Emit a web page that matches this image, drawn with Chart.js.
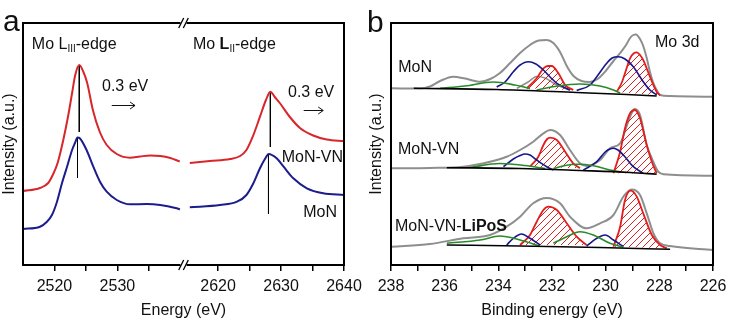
<!DOCTYPE html>
<html>
<head>
<meta charset="utf-8">
<script src="https://cdn.jsdelivr.net/npm/chart.js@4.4.1/dist/chart.umd.min.js"></script>
<style>
  html, body { margin: 0; padding: 0; background: #fff; }
  #wrap { position: relative; width: 745px; height: 322px; }
  canvas { position: absolute; top: 0; }
  #xanes { left: 0; }
  #xps { left: 365px; }
</style>
</head>
<body>
<div id="wrap">
  <canvas id="xanes" width="365" height="322"></canvas>
  <canvas id="xps" width="380" height="322"></canvas>
</div>
<script>
const FONT = '"Liberation Sans", Arial, sans-serif';
Chart.defaults.font.family = FONT;
Chart.defaults.font.size = 16;
Chart.defaults.color = '#111';

// ---- (a) Mo L-edge XANES: [energy eV, intensity a.u.] ----
const lowEdge = [2515, 2540.5];    // L3 window
const highEdge = [2614.5, 2640];   // L2 window
const edgeTicks = [2520, 2530, 2620, 2630, 2640];
const edgeMinor = [2525, 2535, 2625, 2635];

const vnL3 = [[2515.0, 74], [2517.7, 77], [2519.0, 82], [2519.8, 91], [2520.5, 102], [2521.4, 125],
  [2522.2, 150], [2522.8, 172], [2523.3, 190], [2523.94, 200], [2524.6, 193], [2525.2, 182],
  [2526.1, 155], [2527.2, 133], [2528.3, 120], [2529.9, 111], [2532.0, 107.3], [2533.6, 108.5],
  [2535.2, 109.5], [2536.8, 109], [2538.4, 107], [2539.9, 103.5]];
const vnL2 = [[2615.5, 102], [2618.7, 104], [2621.9, 106], [2623.5, 109], [2624.5, 115], [2625.5, 128.3],
  [2626.65, 148.3], [2627.6, 165], [2628.3, 173.3], [2629.0, 168], [2629.8, 162], [2631.4, 148],
  [2633.0, 137], [2635.1, 129.5], [2637.25, 125.5], [2640.0, 124]];
const monL3 = [[2515.0, 36], [2517.7, 38.3], [2518.8, 43.3], [2519.6, 50], [2520.4, 63.3], [2521.2, 82],
  [2522.0, 98.3], [2522.8, 115], [2523.26, 122], [2523.66, 127.5], [2524.06, 126.5], [2525.1, 115],
  [2526.17, 98.3], [2527.23, 83.3], [2528.3, 73.3], [2529.9, 65], [2532.0, 60.7], [2534.65, 61],
  [2536.8, 60], [2539.4, 56.7], [2539.94, 55.7]];
const monL2 = [[2615.5, 57.7], [2620.3, 60], [2623.0, 63.3], [2624.5, 70], [2625.6, 81.7], [2626.65, 96.7],
  [2627.6, 107.7], [2628.0, 111], [2629.3, 106.7], [2630.4, 98.3], [2631.95, 86.7], [2634.1, 76.7],
  [2636.7, 71.7], [2640.0, 70]];
// peak markers: [energy, top, bottom]
const vnPeaks = [[2523.94, 200, 133], [2628.3, 173.3, 118]];
const monPeaks = [[2523.66, 127.5, 87], [2628.0, 111, 51]];

// ---- (b) Mo 3d XPS: [binding energy eV, intensity a.u.] ----
const beTicks = [238, 236, 234, 232, 230, 228, 226];
const beMinor = [237, 235, 233, 231, 229, 227];

const monRaw = [[237.97, 176.7], [236.92, 176.5], [236.55, 178.5], [236.17, 184], [235.68, 188.3],
  [235.24, 186.5], [234.68, 183.3], [234.3, 186], [233.94, 192], [233.56, 202], [233.19, 212],
  [232.82, 220], [232.5, 224.5], [232.2, 225], [231.95, 222], [231.7, 213], [231.45, 199],
  [231.2, 189], [230.9, 184], [230.6, 183], [230.3, 186], [230.0, 194], [229.71, 204],
  [229.46, 212], [229.24, 220], [229.09, 227], [228.97, 230], [228.87, 230.5], [228.72, 226],
  [228.60, 219], [228.47, 207], [228.35, 193], [228.22, 181.7], [228.10, 175], [227.97, 170],
  [227.60, 169], [226.85, 168.5], [225.99, 168.3]];
const monBg = [[237.15, 176.7], [234.06, 175.5], [231.08, 172.5], [229.21, 170.5], [228.10, 169]];
const monBlue1 = [[234.06, 178], [233.75, 183], [233.44, 193.3], [233.19, 200], [232.88, 203.3],
  [232.60, 201], [232.32, 195], [232.07, 188], [231.82, 181.7], [231.33, 175]];
const monBlue2 = [[231.08, 174.5], [230.58, 180], [230.33, 188.3], [229.96, 201.7], [229.76, 207],
  [229.53, 208.3], [229.28, 206], [228.97, 198.3], [228.60, 183.3], [228.35, 175], [228.10, 170]];
const monRed1 = [[232.94, 176.7], [232.57, 186.7], [232.32, 196.7], [232.15, 199], [232.01, 199],
  [231.76, 191.7], [231.51, 180], [231.21, 175]];
const monRed2 = [[229.59, 173], [229.39, 183], [229.28, 191.7], [229.09, 206.7], [228.94, 212],
  [228.84, 212.7], [228.72, 210], [228.60, 205], [228.35, 188.3], [228.10, 173.3], [227.97, 169.5]];
const monGreen1 = [[236.17, 176.7], [235.24, 179], [234.19, 183], [233.38, 180], [232.82, 176.5]];
const monGreen2 = [[232.57, 175], [231.89, 178.5], [230.96, 181], [230.21, 179], [229.71, 175], [229.46, 172]];
const monGray = [[233.31, 176.7], [232.89, 183], [232.57, 188.5], [232.26, 187], [231.82, 180], [231.33, 175]];

const vnRaw = [[237.97, 96.7], [236.55, 97], [235.31, 98.3], [234.31, 103.3], [233.69, 108.3],
  [233.19, 115], [232.70, 123.3], [232.32, 131.7], [232.07, 135], [231.70, 130], [231.33, 115],
  [230.96, 101.7], [230.71, 99], [230.21, 105], [229.84, 116.7], [229.46, 121.7], [229.16, 143.3],
  [228.97, 155], [228.91, 156], [228.72, 150], [228.47, 120], [228.28, 106.7], [228.04, 93.3],
  [227.85, 90.7], [225.99, 89.3]];
const vnBg = [[235.92, 97.3], [233.19, 96.5], [230.96, 94.5], [229.09, 92.5], [228.10, 90.7]];
const vnBlue1 = [[233.81, 98.3], [233.44, 106], [233.19, 109.5], [233.01, 111], [232.82, 110],
  [232.57, 105], [232.20, 98.3], [231.95, 95]];
const vnBlue2 = [[230.83, 95], [230.33, 103.3], [230.02, 113], [229.84, 116], [229.71, 116.7],
  [229.54, 115], [229.34, 110], [228.97, 98.3], [228.60, 91.7]];
const vnRed1 = [[232.82, 98.3], [232.51, 108.3], [232.32, 120], [232.18, 126], [232.07, 127.3],
  [231.82, 125], [231.51, 113.3], [231.21, 101.7], [230.96, 96.7]];
const vnRed2 = [[229.71, 91.7], [229.46, 113.3], [229.28, 136.7], [229.09, 151.7], [228.91, 155],
  [228.72, 146.7], [228.47, 120], [228.28, 103.3], [228.10, 91.7]];
const vnGreen1 = [[235.06, 97.5], [233.94, 101.5], [233.01, 99.5], [232.26, 96.5]];
const vnGreen2 = [[231.95, 96.5], [231.51, 99.5], [231.08, 100.7], [230.46, 99.3], [229.84, 95], [229.46, 93.3]];

const lipRaw = [[237.97, 18.3], [236.55, 21], [235.31, 26.7], [234.31, 30], [233.69, 38.3],
  [233.19, 48.3], [232.70, 61.7], [232.20, 67], [231.70, 61.7], [231.33, 48.3], [230.71, 36.7],
  [230.21, 41.7], [229.71, 50], [229.34, 68.3], [229.03, 75.5], [228.72, 70], [228.47, 51.7],
  [228.22, 31.7], [227.97, 21.7], [227.60, 19], [225.99, 15]];
const lipBg = [[235.92, 20], [233.19, 19], [230.21, 17.5], [227.60, 15.7]];
const lipRed1 = [[233.19, 20], [232.82, 30], [232.57, 43.3], [232.32, 55], [232.14, 58.3],
  [231.82, 55], [231.45, 41.7], [231.08, 28.3], [230.71, 20]];
const lipRed2 = [[229.71, 18.3], [229.46, 38.3], [229.28, 65], [229.07, 74.3], [228.84, 68.3],
  [228.60, 51.7], [228.28, 30], [227.97, 20], [227.72, 16.7]];
const lipBlue1 = [[233.69, 20], [233.44, 26.7], [233.13, 31], [232.82, 26.7], [232.45, 20]];
const lipBlue2 = [[230.71, 19], [230.33, 26.7], [230.02, 30], [229.71, 25], [229.34, 18.3]];
const lipGreen1 = [[235.92, 21.7], [234.68, 25], [233.94, 29], [233.19, 25], [232.45, 19]];
const lipGreen2 = [[231.95, 21.7], [231.45, 28.3], [230.96, 33.3], [230.46, 30], [229.84, 21.7], [229.34, 17.7]];

// broken energy axis: both windows laid end to end
function gapX(e) {
  const w = lowEdge[1] - lowEdge[0];
  return e <= lowEdge[1] ? e - lowEdge[0] : w + (e - highEdge[0]);
}
const xy = (arr, fx = v => v) => arr.map(([e, v]) => ({ x: fx(e), y: v }));

const RED_A = '#d8262b', BLUE_A = '#1c1c8c';
const GRAY = '#8e8e8e', RED = '#e01e1e', BLUE = '#16168a', GREEN = '#2a8a2a';

function hatch(color) {
  const c = document.createElement('canvas');
  c.width = 7; c.height = 7;
  const g = c.getContext('2d');
  g.strokeStyle = color; g.lineWidth = 1;
  g.beginPath();
  g.moveTo(0, 7); g.lineTo(7, 0);
  g.moveTo(-1, 1); g.lineTo(1, -1);
  g.moveTo(6, 8); g.lineTo(8, 6);
  g.stroke();
  return g.createPattern(c, 'repeat');
}

function curve(data, color, width, extra) {
  return Object.assign({
    data, borderColor: color, borderWidth: width, pointRadius: 0, fill: false,
    cubicInterpolationMode: 'monotone'
  }, extra || {});
}

// frame around the plot area, with "//" marks where the axis is broken
const framePlugin = {
  id: 'frame',
  afterDatasetsDraw(chart, args, opts) {
    const { ctx, chartArea: a } = chart;
    ctx.save();
    ctx.strokeStyle = '#000';
    ctx.lineWidth = 2;
    ctx.strokeRect(a.left, a.top, a.right - a.left, a.bottom - a.top);
    if (opts.breakAt != null) {
      const bx = chart.scales.x.getPixelForValue(opts.breakAt);
      for (const y of [a.top, a.bottom]) {
        ctx.fillStyle = '#fff';
        ctx.fillRect(bx - 3, y - 2, 6, 4);
        ctx.lineWidth = 1.3;
        ctx.beginPath();
        for (const d of [-2.3, 2.3]) {
          ctx.moveTo(bx + d - 2.5, y + 5);
          ctx.lineTo(bx + d + 2.5, y - 5);
        }
        ctx.stroke();
      }
    }
    ctx.restore();
  }
};

const partFont = p => (p.bold ? 'bold ' : '') + (p.sub ? '10px ' : '16px ') + FONT;

const notesPlugin = {
  id: 'notes',
  afterDraw(chart, args, opts) {
    const { ctx, scales: { x, y } } = chart;
    ctx.save();
    ctx.fillStyle = '#111';
    ctx.strokeStyle = '#111';
    ctx.textBaseline = 'alphabetic';
    ctx.textAlign = 'left';
    for (const n of opts.items || []) {
      let px = x.getPixelForValue(n.x);
      const py = y.getPixelForValue(n.y);
      const widths = n.parts.map(p => { ctx.font = partFont(p); return ctx.measureText(p.t).width; });
      if (n.align === 'right') px -= widths.reduce((s, w) => s + w, 0);
      n.parts.forEach((p, i) => {
        ctx.font = partFont(p);
        ctx.fillText(p.t, px, py + (p.sub ? 3 : 0));
        px += widths[i];
      });
    }
    ctx.lineWidth = 1;
    for (const r of opts.arrows || []) {
      const x1 = x.getPixelForValue(r.x1), x2 = x.getPixelForValue(r.x2), py = Math.round(y.getPixelForValue(r.y)) + 0.5;
      ctx.beginPath();
      ctx.moveTo(x1, py); ctx.lineTo(x2, py);
      ctx.moveTo(x2 - 5, py - 3.5); ctx.lineTo(x2, py); ctx.lineTo(x2 - 5, py + 3.5);
      ctx.stroke();
    }
    if (opts.letter) {
      ctx.font = '30px ' + FONT;
      ctx.fillText(opts.letter.t, opts.letter.x, opts.letter.y);
    }
    ctx.restore();
  }
};

function xAxis(ticks, title, extra) {
  return Object.assign({
    type: 'linear',
    afterBuildTicks: s => { s.ticks = ticks.map(t => ({ value: t.v, text: t.text })); },
    afterFit: s => { s.height = 57; },
    ticks: { autoSkip: false, maxRotation: 0, padding: 6, callback: (v, i, t) => t[i].text },
    grid: { display: true, drawOnChartArea: false, drawTicks: true, tickLength: 6, color: '#000', lineWidth: 1.5 },
    border: { display: false },
    title: { display: true, text: title, padding: { top: 0, bottom: 2 } }
  }, extra);
}

function yAxis(width, pad) {
  return {
    min: 0, max: 242,
    afterFit: s => { s.width = width; },
    ticks: { display: false },
    grid: { display: false },
    border: { display: false },
    title: { display: true, text: 'Intensity (a.u.)', padding: { top: pad, bottom: 0 } }
  };
}

const common = {
  responsive: false,
  animation: false,
  events: [],
  plugins: { legend: { display: false }, tooltip: { enabled: false } }
};

// ---- (a) ----
const aTicks = edgeTicks.map(e => ({ v: gapX(e), text: String(e) }))
  .concat(edgeMinor.map(e => ({ v: gapX(e), text: '' })));
const markerSets = vnPeaks.concat(monPeaks).map(([e, top, bottom]) =>
  curve([{ x: gapX(e), y: top }, { x: gapX(e), y: bottom }], '#000', 1, { cubicInterpolationMode: 'default', tension: 0, order: 0 }));

new Chart(document.getElementById('xanes'), {
  type: 'line',
  data: {
    datasets: [
      curve(xy(vnL3, gapX), RED_A, 2),
      curve(xy(vnL2, gapX), RED_A, 2),
      curve(xy(monL3, gapX), BLUE_A, 2),
      curve(xy(monL2, gapX), BLUE_A, 2)
    ].concat(markerSets)
  },
  options: Object.assign({}, common, {
    layout: { padding: { left: 0, top: 23, right: 21, bottom: 0 } },
    scales: {
      x: xAxis(aTicks, 'Energy (eV)', { min: 0, max: gapX(highEdge[1]) }),
      y: yAxis(23, 0)
    },
    plugins: Object.assign({}, common.plugins, {
      frame: { breakAt: gapX(lowEdge[1]) },
      notes: {
        letter: { t: 'a', x: 3, y: 31 },
        items: [
          { x: gapX(2516.4), y: 216.5, parts: [{ t: 'Mo L' }, { t: 'III', sub: true }, { t: '-edge' }] },
          { x: gapX(2616.0), y: 216.5, parts: [{ t: 'Mo ' }, { t: 'L', bold: true }, { t: 'II', sub: true }, { t: '-edge' }] },
          { x: gapX(2527.55), y: 174.3, parts: [{ t: '0.3 eV' }] },
          { x: gapX(2631.1), y: 168, parts: [{ t: '0.3 eV' }] },
          { x: gapX(2639.85), y: 103.5, align: 'right', parts: [{ t: 'MoN-VN' }] },
          { x: gapX(2638.9), y: 48, align: 'right', parts: [{ t: 'MoN' }] }
        ],
        arrows: [
          { x1: gapX(2529.1), x2: gapX(2532.8), y: 160 },
          { x1: gapX(2633.6), x2: gapX(2636.7), y: 155 }
        ]
      }
    })
  }),
  plugins: [framePlugin, notesPlugin]
});

// ---- (b) ----
const bTicks = beTicks.map(e => ({ v: e, text: String(e) }))
  .concat(beMinor.map(e => ({ v: e, text: '' })));
const redFill = hatch(RED);
const kinds = {
  raw: d => curve(xy(d), GRAY, 2, { order: 5 }),
  gray: d => curve(xy(d), GRAY, 1.5, { order: 3 }),
  bg: d => curve(xy(d), '#000', 1.6, { order: 1 }),
  blue: d => curve(xy(d), BLUE, 1.6, { order: 2 }),
  green: d => curve(xy(d), GREEN, 1.6, { order: 2 }),
  red: d => curve(xy(d), RED, 1.8, { order: 2, fill: 'shape', backgroundColor: redFill })
};
const xpsSets = [
  [monRaw, 'raw'], [monGray, 'gray'], [monGreen1, 'green'], [monGreen2, 'green'], [monBlue1, 'blue'],
  [monBlue2, 'blue'], [monRed1, 'red'], [monRed2, 'red'], [monBg, 'bg'],
  [vnRaw, 'raw'], [vnGreen1, 'green'], [vnGreen2, 'green'], [vnBlue1, 'blue'], [vnBlue2, 'blue'],
  [vnRed1, 'red'], [vnRed2, 'red'], [vnBg, 'bg'],
  [lipRaw, 'raw'], [lipGreen1, 'green'], [lipGreen2, 'green'], [lipBlue1, 'blue'], [lipBlue2, 'blue'],
  [lipRed1, 'red'], [lipRed2, 'red'], [lipBg, 'bg']
];

new Chart(document.getElementById('xps'), {
  type: 'line',
  data: { datasets: xpsSets.map(([d, k]) => kinds[k](d)) },
  options: Object.assign({}, common, {
    layout: { padding: { left: 0, top: 23, right: 32, bottom: 0 } },
    scales: {
      x: xAxis(bTicks, 'Binding energy (eV)', { min: 226, max: 238, reverse: true }),
      y: yAxis(26, 2)
    },
    plugins: Object.assign({}, common.plugins, {
      frame: {},
      notes: {
        letter: { t: 'b', x: 2, y: 32 },
        items: [
          { x: 228.16, y: 218.3, parts: [{ t: 'Mo 3d' }] },
          { x: 237.73, y: 193.3, parts: [{ t: 'MoN' }] },
          { x: 237.74, y: 110.7, parts: [{ t: 'MoN-VN' }] },
          { x: 237.85, y: 34.5, parts: [{ t: 'MoN-VN-' }, { t: 'LiPoS', bold: true }] }
        ]
      }
    })
  }),
  plugins: [framePlugin, notesPlugin]
});
</script>
</body>
</html>
